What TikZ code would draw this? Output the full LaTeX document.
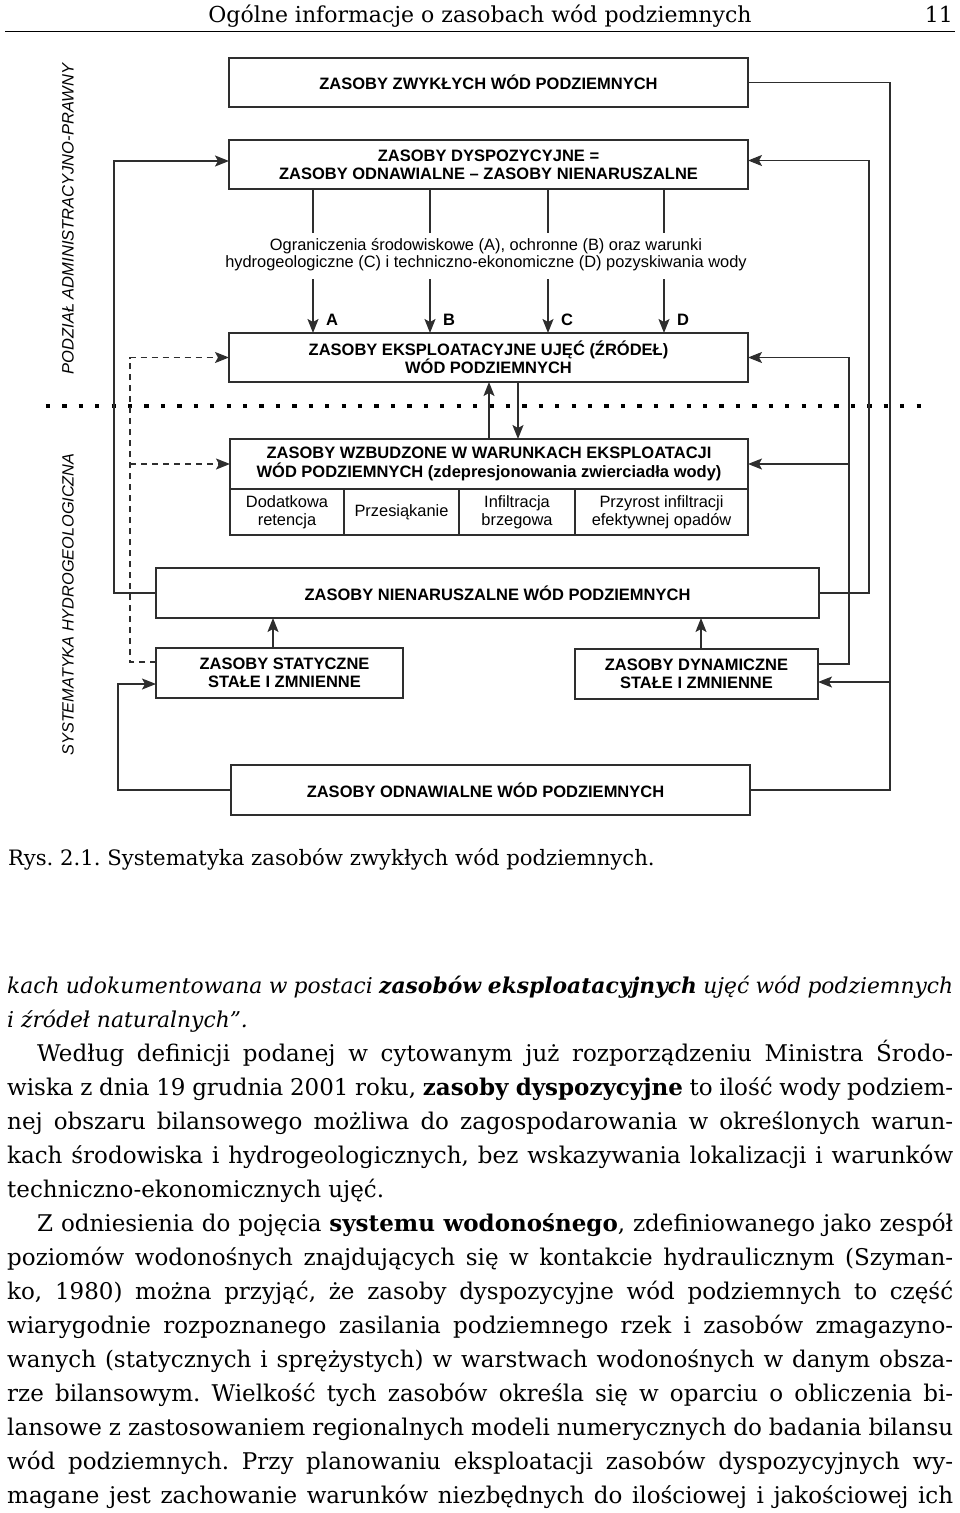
\documentclass[tikz,border=0pt]{standalone}
\usepackage{fontspec}
\setmainfont{DejaVu Serif}
\newfontfamily\diagfont{Liberation Sans}
\usetikzlibrary{arrows.meta}
\frenchspacing

\definecolor{ink}{HTML}{2E2E2E}
\tikzset{
  box/.style={draw=ink, line width=1.4pt, inner sep=0pt, outer sep=0pt, align=center,
    font=\diagfont\bfseries\fontsize{16.5}{18.2}\selectfont, text=black},
  cell/.style={box, font=\diagfont\fontsize{16.4}{18.4}\selectfont},
  link/.style={draw=ink, line width=1.4pt},
  arr/.style={link, -{Stealth[length=14pt,width=11pt,inset=3pt]}},
  darr/.style={arr, dash pattern=on 6pt off 5pt},
  bodyline/.style={anchor=base west, inner sep=0pt, text=black,
    font=\fontsize{23}{28}\selectfont},
}

\begin{document}
\begin{tikzpicture}[x=1pt,y=-1pt]
  \useasboundingbox (0,0) rectangle (960,1513);

  % page head
  \node[anchor=base, inner sep=0pt, font=\fontsize{22}{26}\selectfont] (head) at (480,22.5) {Ogólne informacje o zasobach wód podziemnych};
  \node[anchor=base east, inner sep=0pt, font=\fontsize{22}{26}\selectfont] (pnum) at (953,22.5) {11};
  \draw[line width=1pt] (5,31) -- (955,31);

  % side labels and separator
  \node[rotate=90, font=\diagfont\itshape\fontsize{16.5}{18}\selectfont] (adm) at (68,219) {PODZIAŁ ADMINISTRACYJNO-PRAWNY};
  \node[rotate=90, font=\diagfont\itshape\fontsize{16.3}{18}\selectfont] (hyd) at (68,604.5) {SYSTEMATYKA HYDROGEOLOGICZNA};
  \draw[line width=4.3pt, dash pattern=on 4.3pt off 12.13pt] (45.8,406) -- (922,406);

  % boxes
  \node[box, minimum width=519pt, minimum height=49pt] (zwykle) at (488.5,82.5) {ZASOBY ZWYKŁYCH WÓD PODZIEMNYCH};
  \node[box, minimum width=519pt, minimum height=49pt] (dyspoz) at (488.5,164.5) {ZASOBY DYSPOZYCYJNE =\\ZASOBY ODNAWIALNE – ZASOBY NIENARUSZALNE};
  \node[align=center, inner sep=0pt, font=\diagfont\fontsize{16.4}{17.6}\selectfont] (ogr) at (486,254.5)
    {Ograniczenia środowiskowe (A), ochronne (B) oraz warunki\\hydrogeologiczne (C) i techniczno-ekonomiczne (D) pozyskiwania wody};
  \node[box, minimum width=519pt, minimum height=49pt] (eksp) at (488.5,357.5) {ZASOBY EKSPLOATACYJNE UJĘĆ (ŹRÓDEŁ)\\WÓD PODZIEMNYCH};

  \node[box, minimum width=518pt, minimum height=50pt] (wzbh) at (489,464) {ZASOBY WZBUDZONE W WARUNKACH EKSPLOATACJI\\WÓD PODZIEMNYCH (zdepresjonowania zwierciadła wody)};
  \node[cell, minimum width=114pt, minimum height=46pt] (dodat) at (287,512) {Dodatkowa\\retencja};
  \node[cell, minimum width=115pt, minimum height=46pt] (przes) at (401.5,512) {Przesiąkanie};
  \node[cell, minimum width=116pt, minimum height=46pt] (infil) at (517,512) {Infiltracja\\brzegowa};
  \node[cell, minimum width=173pt, minimum height=46pt] (przyr) at (661.5,512) {Przyrost infiltracji\\efektywnej opadów};

  \node[box, minimum width=663pt, minimum height=50pt] (nienar) at (487.5,593) {\hspace*{20pt}ZASOBY NIENARUSZALNE WÓD PODZIEMNYCH};
  \node[box, minimum width=247pt, minimum height=50pt] (statyc) at (279.5,673) {\hspace*{10pt}ZASOBY STATYCZNE\\\hspace*{10pt}STAŁE I ZMNIENNE};
  \node[box, minimum width=243pt, minimum height=50pt] (dynam) at (696.5,674) {ZASOBY DYNAMICZNE\\STAŁE I ZMNIENNE};
  \node[box, minimum width=519pt, minimum height=50pt] (odnaw) at (490.5,790) {ZASOBY ODNAWIALNE WÓD PODZIEMNYCH\hspace*{10pt}};

  % restrictions A-D
  \foreach \x/\l in {313/A,430/B,548/C,664/D} {
    \draw[link] (dyspoz.south -| \x,0) -- (\x,233);
    \draw[arr] (\x,279) -- (eksp.north -| \x,0);
    \node[anchor=west, inner sep=0pt, font=\diagfont\bfseries\fontsize{16.5}{18}\selectfont] (lab\l) at (\x+13,320) {\l};
  }

  % connectors
  \draw[arr] (wzbh.north -| 489,0) -- (eksp.south -| 489,0);
  \draw[arr] (eksp.south -| 518,0) -- (wzbh.north -| 518,0);
  \draw[arr] (statyc.north -| 273,0) -- (nienar.south -| 273,0);
  \draw[arr] (dynam.north -| 701,0) -- (nienar.south -| 701,0);

  \draw[arr] (nienar.west) -- (114,593) |- ([yshift=3.5pt]dyspoz.west);
  \draw[arr] (nienar.east) -- (869,593) |- ([yshift=4pt]dyspoz.east);

  \coordinate (jdyn) at (890,682);
  \draw[link] (zwykle.east) -- (890,82.5) |- (odnaw.east);
  \draw[arr] (jdyn) -- (jdyn -| dynam.east);

  \draw[arr] (odnaw.west) -- (118,790) |- ([yshift=-11pt]statyc.west);

  \coordinate (jwzb) at (130,464);
  \draw[darr] ([yshift=11pt]statyc.west) -- (130,662) |- (eksp.west);
  \draw[darr] (jwzb) -- (wzbh.west);

  \coordinate (jwr) at (849,464);
  \draw[arr] ([yshift=10pt]dynam.east) -- (849,664) |- (eksp.east);
  \draw[arr] (jwr) -- (wzbh.east);

  % caption
  \node[bodyline, font=\fontsize{21.2}{26}\selectfont] (capt) at (8,865) {Rys. 2.1. Systematyka zasobów zwykłych wód podziemnych.};

  % running text
  \node[bodyline, font=\fontsize{21.8}{28}\selectfont] (t1) at (7,993.3) {\makebox[946pt][s]{\itshape kach udokumentowana w postaci \textbf{zasobów eksploatacyjnych} ujęć wód podziemnych}};
  \node[bodyline, font=\fontsize{21.8}{28}\selectfont] (t2) at (7,1027.3) {\itshape i źródeł naturalnych”.};
  \node[bodyline] (t3) at (37,1061.3) {\makebox[916pt][s]{Według definicji podanej w cytowanym już rozporządzeniu Ministra Środo-}};
  \node[bodyline] (t4) at (7,1095.3) {\makebox[946pt][s]{wiska z dnia 19 grudnia 2001 roku, \textbf{zasoby dyspozycyjne} to ilość wody podziem-}};
  \node[bodyline] (t5) at (7,1129.3) {\makebox[946pt][s]{nej obszaru bilansowego możliwa do zagospodarowania w określonych warun-}};
  \node[bodyline] (t6) at (7,1163.3) {\makebox[946pt][s]{kach środowiska i hydrogeologicznych, bez wskazywania lokalizacji i warunków}};
  \node[bodyline] (t7) at (7,1197.3) {techniczno-ekonomicznych ujęć.};
  \node[bodyline] (t8) at (37,1231.3) {\makebox[916pt][s]{Z odniesienia do pojęcia \textbf{systemu wodonośnego}, zdefiniowanego jako zespół}};
  \node[bodyline] (t9) at (7,1265.3) {\makebox[946pt][s]{poziomów wodonośnych znajdujących się w kontakcie hydraulicznym (Szyman-}};
  \node[bodyline] (t10) at (7,1299.3) {\makebox[946pt][s]{ko, 1980) można przyjąć, że zasoby dyspozycyjne wód podziemnych to część}};
  \node[bodyline] (t11) at (7,1333.3) {\makebox[946pt][s]{wiarygodnie rozpoznanego zasilania podziemnego rzek i zasobów zmagazyno-}};
  \node[bodyline] (t12) at (7,1367.3) {\makebox[946pt][s]{wanych (statycznych i sprężystych) w warstwach wodonośnych w danym obsza-}};
  \node[bodyline] (t13) at (7,1401.3) {\makebox[946pt][s]{rze bilansowym. Wielkość tych zasobów określa się w oparciu o obliczenia bi-}};
  \node[bodyline] (t14) at (7,1435.3) {\makebox[946pt][s]{lansowe z zastosowaniem regionalnych modeli numerycznych do badania bilansu}};
  \node[bodyline] (t15) at (7,1469.3) {\makebox[946pt][s]{wód podziemnych. Przy planowaniu eksploatacji zasobów dyspozycyjnych wy-}};
  \node[bodyline] (t16) at (7,1503.3) {\makebox[946pt][s]{magane jest zachowanie warunków niezbędnych do ilościowej i jakościowej ich}};
\end{tikzpicture}
\end{document}
